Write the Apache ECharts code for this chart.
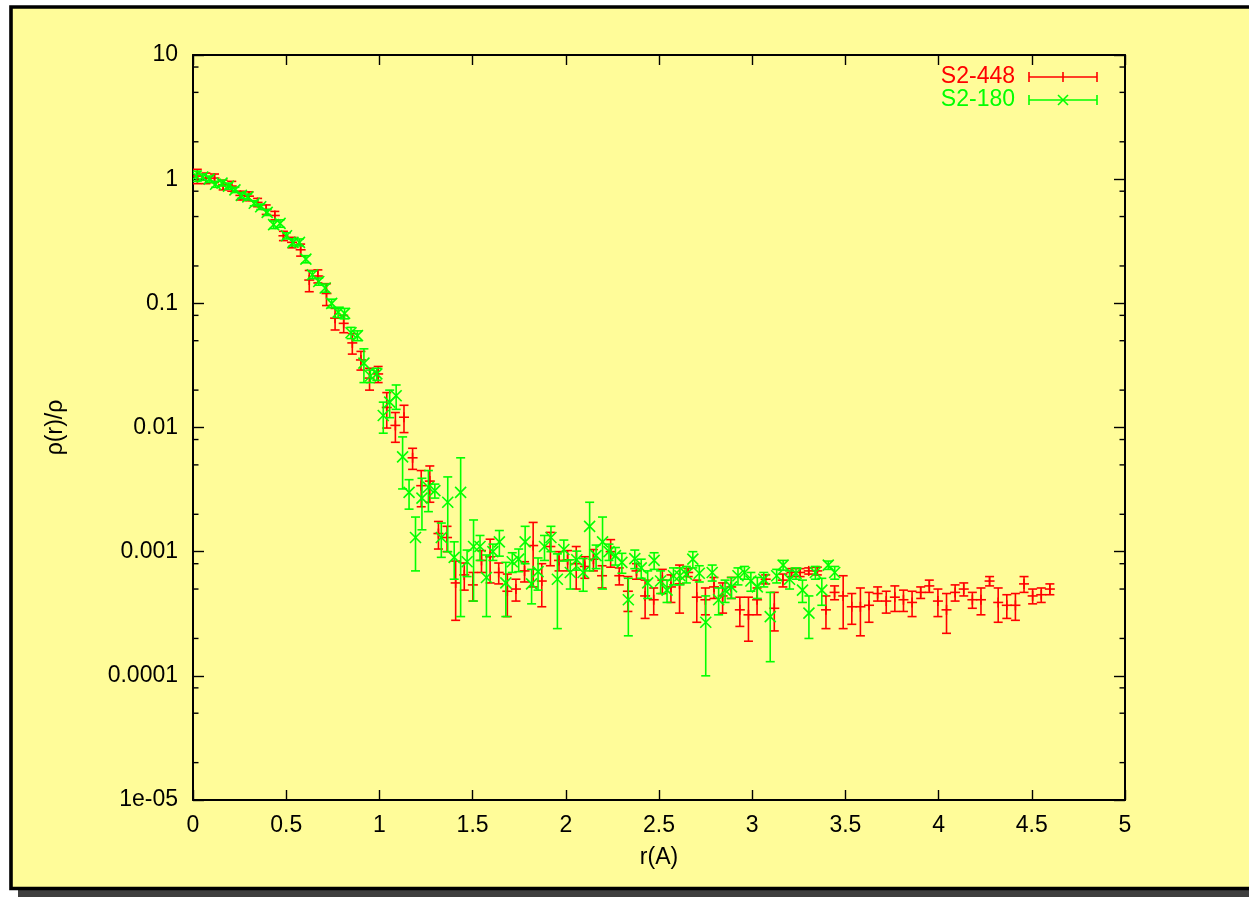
<!DOCTYPE html>
<html>
<head>
<meta charset="utf-8">
<script src="https://cdn.jsdelivr.net/npm/echarts@6/dist/echarts.min.js"></script>
<style>
html,body{margin:0;padding:0;background:#fff;}
#chart{width:1249px;height:897px;}
</style>
</head>
<body>
<div id="chart"></div>
<script>
// ---- data ----
const seriesNames = ['S2-448', 'S2-180'];
const yTickLabels = ['1e-05', '0.0001', '0.001', '0.01', '0.1', '1', '10'];
const minorTickValues = [2e-5,5e-5,8e-5,2e-4,5e-4,8e-4,2e-3,5e-3,8e-3,2e-2,5e-2,8e-2,0.2,0.5,0.8,2,5,8];

const redR = [0.0231,0.0693,0.1155,0.1617,0.2079,0.2541,0.3003,0.3465,0.3927,0.4389,
0.4851,0.5313,0.5775,0.6237,0.6699,0.7161,0.7623,0.8085,0.8547,0.9009,
0.9471,0.9933,1.0395,1.0857,1.1319,1.1781,1.2243,1.2705,1.3167,1.3629,
1.4091,1.4553,1.5015,1.5477,1.5939,1.6401,1.6863,1.7325,1.7787,1.8249,
1.8711,1.9173,1.9635,2.0097,2.0559,2.1021,2.1483,2.1945,2.2407,2.2869,
2.3331,2.3793,2.4255,2.4717,2.5179,2.5641,2.6103,2.6565,2.7027,2.7489,
2.7951,2.8413,2.8875,2.9337,2.9799,3.0261,3.0723,3.1185,3.1647,3.2109,
3.2571,3.3033,3.3495,3.3957,3.4419,3.4881,3.5343,3.5805,3.6267,3.6729,
3.7191,3.7653,3.8115,3.8577,3.9039,3.9501,3.9963,4.0425,4.0887,4.1349,
4.1811,4.2273,4.2735,4.3197,4.3659,4.4121,4.4583,4.5045,4.5507,4.5969];
const redV = [1.06,1.02,1.02,0.9,0.88,0.74,0.73,0.65,0.57,0.51,
0.35,0.31,0.27,0.154,0.166,0.12,0.076,0.069,0.048,0.035,
0.025,0.027,0.0145,0.0104,0.0121,0.0057,0.0034,0.0037,0.0014,0.0013,
0.00056,0.00065,0.00054,0.00085,0.00091,0.00068,0.00048,0.0005,0.0007,0.00112,
0.00058,0.0011,0.00085,0.00086,0.0008,0.00076,0.00087,0.00064,0.001,0.00064,
0.00048,0.0007,0.00044,0.00041,0.00059,0.00052,0.00055,0.00068,0.00043,0.00041,
0.00052,0.00044,0.00052,0.00034,0.00031,0.00041,0.0006,0.00035,0.00059,0.00068,
0.00068,0.0007,0.0007,0.00034,0.00047,0.00044,0.00036,0.00036,0.00037,0.00046,
0.0004,0.00043,0.00041,0.00039,0.00047,0.00053,0.0004,0.00034,0.00047,0.0005,
0.00041,0.00041,0.00058,0.00039,0.00037,0.00037,0.00055,0.00044,0.00045,0.0005];
const redE = [0.14,0.1,0.08,0.08,0.08,0.06,0.06,0.05,0.05,0.04,
0.03,0.03,0.03,0.03,0.02,0.024,0.015,0.011,0.009,0.006,
0.005,0.004,0.0046,0.0028,0.003,0.0011,0.0011,0.0012,0.00035,0.0003,
0.00028,0.00016,0.00014,0.00017,0.00035,0.00013,0.00018,0.0001,0.00013,0.0006,
0.00022,0.00033,0.00015,0.00016,0.0003,0.00015,0.00017,0.00013,0.00025,0.0001,
0.00015,0.0001,0.00015,0.0001,0.00013,0.00013,0.00023,0.00005,0.00016,0.0001,
0.0001,0.00012,0.0001,0.00009,0.00012,0.0001,0.00005,0.00012,0.00007,0.00005,
0.00005,0.00004,0.00005,0.0001,0.00006,0.0002,0.0001,0.00015,0.0001,0.00006,
0.00008,0.0001,0.00008,0.00009,0.00005,0.00006,0.0001,0.00012,0.00007,0.00006,
0.00006,0.0001,0.00005,0.00012,0.00008,0.00009,0.00008,0.00006,0.00006,0.00005];

const greenR = [0.0173,0.0519,0.0865,0.1211,0.1557,0.1903,0.2249,0.2595,0.2941,0.3287,
0.3633,0.3979,0.4325,0.4671,0.5017,0.5363,0.5709,0.6055,0.6401,0.6747,
0.7093,0.7439,0.7785,0.8131,0.8477,0.8823,0.9169,0.9515,0.9861,1.0207,
1.0553,1.0899,1.1245,1.1591,1.1937,1.2283,1.2629,1.2975,1.3321,1.3667,
1.4013,1.4359,1.4705,1.5051,1.5397,1.5743,1.6089,1.6435,1.6781,1.7127,
1.7473,1.7819,1.8165,1.8511,1.8857,1.9203,1.9549,1.9895,2.0241,2.0587,
2.0933,2.1279,2.1625,2.1971,2.2317,2.2663,2.3009,2.3355,2.3701,2.4047,
2.4393,2.4739,2.5085,2.5431,2.5777,2.6123,2.6469,2.6815,2.7161,2.7507,
2.7853,2.8199,2.8545,2.8891,2.9237,2.9583,2.9929,3.0275,3.0621,3.0967,
3.1313,3.1659,3.2005,3.2351,3.2697,3.3043,3.3389,3.3735,3.4081,3.4427];
const greenV = [1.06,1.04,1.0,0.91,0.93,0.88,0.82,0.74,0.72,0.64,
0.6,0.54,0.43,0.44,0.35,0.31,0.31,0.227,0.17,0.15,
0.133,0.1,0.085,0.083,0.058,0.055,0.033,0.026,0.027,0.0125,
0.016,0.018,0.0058,0.003,0.0013,0.0027,0.0033,0.0031,0.0013,0.0025,
0.0009,0.003,0.00083,0.0011,0.0011,0.00062,0.001,0.0012,0.00056,0.00083,
0.00087,0.0012,0.00055,0.00069,0.0011,0.0013,0.0006,0.00104,0.00068,0.00086,
0.00068,0.0016,0.00093,0.0012,0.001,0.00093,0.00082,0.00041,0.00088,0.00074,
0.00056,0.00085,0.00058,0.00049,0.00064,0.00064,0.00066,0.00087,0.00067,0.00027,
0.00068,0.00041,0.00049,0.00052,0.00064,0.00068,0.00058,0.00052,0.0006,0.0003,
0.00064,0.00078,0.0006,0.00067,0.00049,0.00032,0.00068,0.00049,0.00078,0.00068];
const greenE = [0.1,0.06,0.06,0.05,0.05,0.05,0.04,0.04,0.04,0.03,
0.03,0.03,0.03,0.03,0.02,0.02,0.02,0.015,0.012,0.01,
0.01,0.008,0.008,0.008,0.006,0.005,0.01,0.003,0.003,0.0035,
0.004,0.004,0.0026,0.0008,0.0006,0.0012,0.0012,0.0004,0.0004,0.0015,
0.0003,0.0027,0.0002,0.0007,0.00025,0.00032,0.00015,0.00028,0.00026,0.00015,
0.00018,0.0004,0.00017,0.0002,0.00025,0.0003,0.00036,0.0002,0.00018,0.00015,
0.0002,0.0009,0.0002,0.0007,0.00015,0.00015,0.00015,0.0002,0.00015,0.00013,
0.00014,0.00013,0.00012,0.0001,0.0001,0.0001,0.0001,0.00013,0.0001,0.00017,
0.0001,0.0001,0.0001,0.0001,0.0001,0.00008,0.0001,0.0001,0.00008,0.00017,
0.00008,0.00007,0.0001,0.00007,0.0001,0.00012,0.00008,0.00012,0.00006,0.00008];

// ---- chart ----
const YMIN = 1e-5, YMAX = 10;
const RED = '#ff0000', GREEN = '#00ff00';
const FONT = '"Liberation Sans", Arial, Helvetica, sans-serif';
const FS = 23;
const LW = 1.6;

function errRender(marker, color) {
  return function (params, api) {
    const x = api.value(0), v = api.value(1), e = api.value(2);
    const lo = Math.max(v - e, YMIN);
    const c = api.coord([x, v]);
    const cl = api.coord([x, lo]);
    const ch = api.coord([x, v + e]);
    const st = { stroke: color, lineWidth: LW, fill: null };
    const k = 4.5;
    const ch2 = [
      { type: 'line', shape: { x1: c[0], y1: cl[1], x2: c[0], y2: ch[1] }, style: st },
      { type: 'line', shape: { x1: c[0] - k, y1: cl[1], x2: c[0] + k, y2: cl[1] }, style: st },
      { type: 'line', shape: { x1: c[0] - k, y1: ch[1], x2: c[0] + k, y2: ch[1] }, style: st }
    ];
    if (marker === 'plus') {
      ch2.push({ type: 'line', shape: { x1: c[0] - 5, y1: c[1], x2: c[0] + 5, y2: c[1] }, style: st });
      ch2.push({ type: 'line', shape: { x1: c[0], y1: c[1] - 5, x2: c[0], y2: c[1] + 5 }, style: st });
    } else {
      const m = 5.5;
      ch2.push({ type: 'line', shape: { x1: c[0] - m, y1: c[1] - m, x2: c[0] + m, y2: c[1] + m }, style: st });
      ch2.push({ type: 'line', shape: { x1: c[0] - m, y1: c[1] + m, x2: c[0] + m, y2: c[1] - m }, style: st });
    }
    return { type: 'group', children: ch2 };
  };
}

function minorTickRender(params, api) {
  const v = api.value(1);
  const y = api.coord([0, v])[1];
  const cs = params.coordSys;
  const st = { stroke: '#000', lineWidth: 1.4 };
  return { type: 'group', children: [
    { type: 'line', shape: { x1: cs.x, y1: y, x2: cs.x + 5.5, y2: y }, style: st },
    { type: 'line', shape: { x1: cs.x + cs.width - 5.5, y1: y, x2: cs.x + cs.width, y2: y }, style: st }
  ]};
}

function yLabel(v) {
  const idx = Math.round(Math.log10(v)) + 5;
  return yTickLabels[idx] !== undefined ? yTickLabels[idx] : '';
}

const axisLineStyle = { color: '#000', width: 2 };
const tickStyle = { color: '#000', width: 1.4 };

const legendEls = [];
[[seriesNames[0], RED, 76, 'plus'], [seriesNames[1], GREEN, 99, 'cross']].forEach(function (it) {
  const y = it[2];
  const st = { stroke: it[1], lineWidth: LW };
  legendEls.push({ type: 'text', x: 1015, y: y + 1, z: 50, style: { text: it[0], fill: it[1], font: FS + 'px ' + FONT, align: 'right', verticalAlign: 'middle' } });
  legendEls.push({ type: 'line', z: 50, shape: { x1: 1029, y1: y + 1, x2: 1097, y2: y + 1 }, style: st });
  legendEls.push({ type: 'line', z: 50, shape: { x1: 1029, y1: y - 4, x2: 1029, y2: y + 6 }, style: st });
  legendEls.push({ type: 'line', z: 50, shape: { x1: 1097, y1: y - 4, x2: 1097, y2: y + 6 }, style: st });
  if (it[3] === 'plus') {
    legendEls.push({ type: 'line', z: 50, shape: { x1: 1063, y1: y - 4, x2: 1063, y2: y + 6 }, style: st });
  } else {
    legendEls.push({ type: 'line', z: 50, shape: { x1: 1058, y1: y - 4, x2: 1068, y2: y + 6 }, style: st });
    legendEls.push({ type: 'line', z: 50, shape: { x1: 1058, y1: y + 6, x2: 1068, y2: y - 4 }, style: st });
  }
});

const chart = echarts.init(document.getElementById('chart'), null, { renderer: 'canvas' });
const option = {
  backgroundColor: '#ffffff',
  animation: false,
  graphic: { elements: [
    { type: 'rect', z: -20, silent: true, shape: { x: 18, y: 14, width: 1300, height: 900 }, style: { fill: '#3f3f3f' } },
    { type: 'rect', z: -10, silent: true, shape: { x: 11, y: 7, width: 1300, height: 881.5 }, style: { fill: '#fffc99', stroke: '#000', lineWidth: 3.6 } }
  ].concat(legendEls) },
  grid: { left: 193, right: 124, top: 55, bottom: 97, show: false },
  xAxis: [
    { type: 'value', min: 0, max: 5, interval: 0.5, position: 'bottom',
      axisLine: { show: true, onZero: false, lineStyle: axisLineStyle },
      axisTick: { show: true, inside: true, length: 10, lineStyle: tickStyle },
      axisLabel: { color: '#000', fontSize: FS, fontFamily: FONT, margin: 14 },
      splitLine: { show: false },
      name: 'r(A)', nameLocation: 'middle', nameGap: 46,
      nameTextStyle: { color: '#000', fontSize: FS, fontFamily: FONT } },
    { type: 'value', min: 0, max: 5, interval: 0.5, position: 'top',
      axisLine: { show: true, onZero: false, lineStyle: axisLineStyle },
      axisTick: { show: true, inside: true, length: 10, lineStyle: tickStyle },
      axisLabel: { show: false }, splitLine: { show: false } }
  ],
  yAxis: [
    { type: 'log', logBase: 10, min: YMIN, max: YMAX, splitNumber: 6, position: 'left',
      axisLine: { show: true, onZero: false, lineStyle: axisLineStyle },
      axisTick: { show: true, inside: true, length: 11, lineStyle: tickStyle },
      axisLabel: { color: '#000', fontSize: FS, fontFamily: FONT, margin: 15, formatter: yLabel },
      splitLine: { show: false }, minorTick: { show: false },
      name: 'ρ(r)/ρ', nameLocation: 'middle', nameGap: 126, nameRotate: 90,
      nameTextStyle: { color: '#000', fontSize: FS, fontFamily: FONT } },
    { type: 'log', logBase: 10, min: YMIN, max: YMAX, splitNumber: 6, position: 'right',
      axisLine: { show: true, onZero: false, lineStyle: axisLineStyle },
      axisTick: { show: true, inside: true, length: 11, lineStyle: tickStyle },
      axisLabel: { show: false }, splitLine: { show: false } }
  ],
  series: [
    { type: 'custom', name: 'minor', xAxisIndex: 0, yAxisIndex: 0, silent: true, z: 3,
      renderItem: minorTickRender,
      data: minorTickValues.map(function (v) { return [0, v]; }), encode: { x: 0, y: 1 } },
    { type: 'custom', name: seriesNames[0], xAxisIndex: 0, yAxisIndex: 0, clip: true, z: 4,
      renderItem: errRender('plus', RED),
      data: redR.map(function (r, i) { return [r, redV[i], redE[i]]; }), encode: { x: 0, y: 1 } },
    { type: 'custom', name: seriesNames[1], xAxisIndex: 0, yAxisIndex: 0, clip: true, z: 5,
      renderItem: errRender('cross', GREEN),
      data: greenR.map(function (r, i) { return [r, greenV[i], greenE[i]]; }), encode: { x: 0, y: 1 } }
  ]
};
chart.setOption(option);
</script>
</body>
</html>
